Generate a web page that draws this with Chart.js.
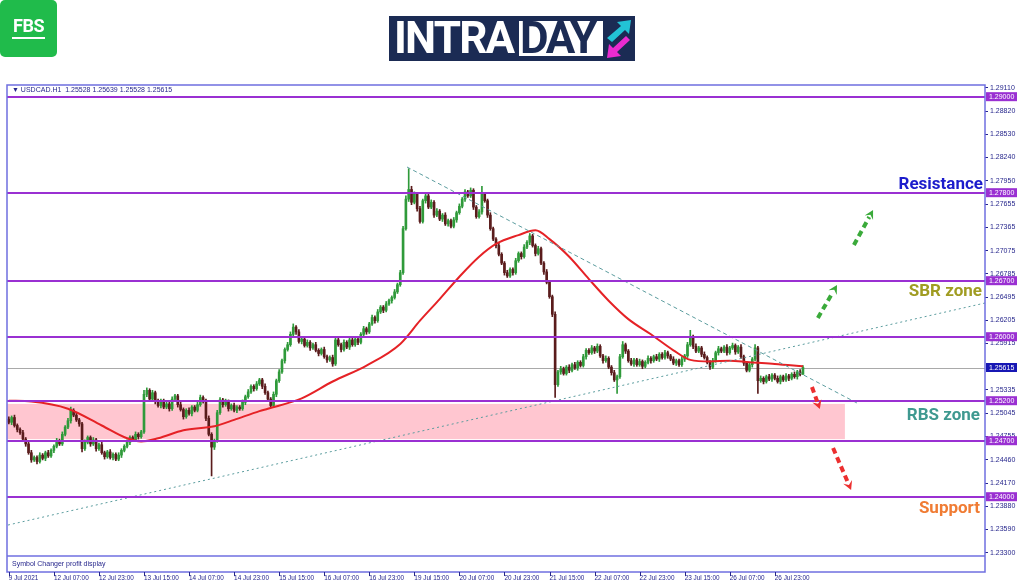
<!DOCTYPE html>
<html>
<head>
<meta charset="utf-8">
<title>USDCAD H1 intraday</title>
<script src="https://cdn.jsdelivr.net/npm/chart.js@4.4.1/dist/chart.umd.min.js"></script>
<style>
  html, body { margin: 0; padding: 0; background: #fff; }
  #wrap { position: relative; width: 1024px; height: 587px; overflow: hidden; }
  #chart-box { position: absolute; left: 0; top: 0; width: 1024px; height: 587px; }
  .fbs { position: absolute; left: 0; top: 0; width: 57px; height: 57px; background: #20bb4b; border-radius: 5px; }
  .fbs span { position: absolute; left: 0; top: 17px; width: 57px; text-align: center; color: #fff;
    font: bold 18px Roboto, sans-serif; line-height: 18px; letter-spacing: -0.5px; }
  .fbs i { position: absolute; left: 12px; top: 37px; width: 33px; height: 2px; background: #fff; }
  .intraday { position: absolute; left: 389px; top: 16px; width: 246px; height: 45px; background: #1b2b54; }
  .intraday .w1 { position: absolute; left: 5px; top: 0; color: #fff; font: bold 44px Roboto, sans-serif;
    line-height: 44px; letter-spacing: -1.8px; }
  .intraday .day { position: absolute; left: 130px; top: 5px; width: 84px; height: 35px; background: #fff; }
  .intraday .day span { position: absolute; left: 1px; top: -5px; color: #1b2b54; font: bold 44px Roboto, sans-serif;
    line-height: 44px; letter-spacing: -2.4px; }
  .intraday svg { position: absolute; left: 215px; top: 2px; }
</style>
</head>
<body>
<div id="wrap">
  <div id="chart-box"><canvas id="chart"></canvas></div>
  <div class="fbs"><span>FBS</span><i></i></div>
  <div class="intraday">
    <div class="w1">INTRA</div>
    <div class="day"><span>DAY</span></div>
    <svg width="30" height="42" viewBox="0 0 30 42">
      <polygon points="3,20 17,8 13,4 27,2 25,16 21,12 8,24" fill="#22c3d6"/>
      <polygon points="26,22 13,34 17,38 3,40 5,26 9,30 22,18" fill="#ea2bd0"/>
    </svg>
  </div>
</div>
<script>
// USDCAD H1, 9 Jul 2021 15:00 .. 27 Jul 2021 09:00
const firstOpen = 1.2497;
const closes = [
  1.2493,1.2499,1.2489,1.2484,1.2480,1.2472,1.2466,1.2455,1.2446,1.2449,
  1.2444,1.2452,1.2448,1.2455,1.2451,1.2458,1.2463,1.2470,1.2466,1.2478,
  1.2487,1.2495,1.2508,1.2502,1.2496,1.2491,1.2460,1.2468,1.2474,1.2466,
  1.2471,1.2460,1.2465,1.2455,1.2450,1.2456,1.2449,1.2453,1.2447,1.2452,
  1.2458,1.2463,1.2468,1.2474,1.2471,1.2478,1.2475,1.2481,1.2528,1.2533,
  1.2522,1.2530,1.2519,1.2514,1.2520,1.2512,1.2516,1.2510,1.2522,1.2526,
  1.2515,1.2509,1.2500,1.2508,1.2504,1.2512,1.2508,1.2515,1.2524,1.2520,
  1.2498,1.2478,1.2462,1.2470,1.2505,1.2521,1.2515,1.2519,1.2510,1.2514,
  1.2508,1.2512,1.2510,1.2518,1.2525,1.2531,1.2538,1.2535,1.2541,1.2546,
  1.2538,1.2530,1.2522,1.2514,1.2528,1.2545,1.2556,1.2570,1.2584,1.2590,
  1.2603,1.2612,1.2606,1.2594,1.2597,1.2589,1.2593,1.2586,1.2590,1.2583,
  1.2579,1.2584,1.2575,1.2571,1.2574,1.2566,1.2596,1.2590,1.2584,1.2593,
  1.2587,1.2596,1.2590,1.2597,1.2593,1.2603,1.2610,1.2606,1.2616,1.2624,
  1.2620,1.2631,1.2637,1.2633,1.2641,1.2645,1.2649,1.2656,1.2665,1.2680,
  1.2735,1.2772,1.2784,1.2768,1.2778,1.2760,1.2744,1.2770,1.2776,1.2762,
  1.2768,1.2752,1.2757,1.2747,1.2752,1.2741,1.2745,1.2738,1.2746,1.2755,
  1.2763,1.2772,1.2781,1.2776,1.2783,1.2762,1.2750,1.2756,1.2778,1.2770,
  1.2752,1.2735,1.2722,1.2714,1.2703,1.2692,1.2680,1.2676,1.2684,1.2680,
  1.2695,1.2704,1.2700,1.2712,1.2718,1.2726,1.2714,1.2704,1.2710,1.2692,
  1.2681,1.2668,1.2650,1.2628,1.2540,1.2556,1.2560,1.2554,1.2562,1.2558,
  1.2565,1.2561,1.2568,1.2564,1.2575,1.2583,1.2580,1.2586,1.2582,1.2588,
  1.2576,1.2570,1.2573,1.2562,1.2555,1.2546,1.2550,1.2575,1.2590,1.2582,
  1.2570,1.2566,1.2571,1.2565,1.2569,1.2563,1.2568,1.2573,1.2570,1.2575,
  1.2572,1.2578,1.2574,1.2580,1.2576,1.2572,1.2567,1.2570,1.2565,1.2572,
  1.2576,1.2590,1.2600,1.2588,1.2582,1.2586,1.2578,1.2574,1.2568,1.2562,
  1.2570,1.2580,1.2585,1.2582,1.2587,1.2580,1.2586,1.2589,1.2581,1.2587,
  1.2575,1.2567,1.2558,1.2565,1.2572,1.2586,1.2545,1.2548,1.2544,1.2550,
  1.2547,1.2552,1.2548,1.2544,1.2550,1.2546,1.2551,1.2548,1.2553,1.2550,
  1.2556,1.2553,1.25615
];
// wick length above / below the body, in pips
const wickUpPips = [
  3,2,3,2,2,3,2,2,3,2, 2,3,2,2,3,2,2,3,2,3, 2,3,4,2,3,2,2,3,2,2, 3,2,2,3,2,2,3,2,2,3,
  2,2,3,2,2,3,2,2,5,3, 2,3,2,3,2,2,3,2,3,2, 2,3,2,2,3,2,2,3,3,2, 2,3,2,2,3,3,2,3,2,2,
  3,2,2,3,2,3,2,2,3,2, 2,3,2,2,3,2,3,2,2,3, 3,4,2,3,2,2,3,2,2,3, 2,2,3,2,2,3,3,2,2,3,
  2,3,2,2,3,2,3,2,2,3, 2,3,2,2,3,2,2,3,2,3, 3,4,26,4,3,2,3,2,4,2, 3,2,3,2,2,3,2,2,3,2,
  3,2,3,2,3,2,2,3,10,2, 2,3,2,2,3,2,2,3,2,2, 3,2,2,3,2,3,2,2,3,2, 2,3,2,2,3,2,3,2,2,3,
  2,3,2,2,3,2,2,3,2,3, 2,2,3,2,2,3,2,3,4,2, 2,3,2,2,3,2,2,3,2,2, 3,2,2,3,2,2,3,2,2,3,
  2,3,8,2,3,2,2,3,2,2, 3,2,3,2,2,3,2,3,2,2, 3,2,2,3,2,4,2,3,2,2, 3,2,2,3,2,2,3,2,2,3,
  2,3,2.4
];
const wickDownPips = [
  2,3,2,3,2,2,3,2,3,2, 3,2,2,3,2,2,3,2,2,2, 2,2,3,2,2,3,4,2,2,3, 2,3,2,2,3,2,2,3,2,2,
  3,2,2,3,2,2,3,2,2,3, 2,2,3,2,3,2,2,3,2,2, 3,2,3,2,2,3,2,2,2,3, 3,2,36,3,2,2,3,2,3,2,
  2,3,2,2,3,2,2,3,2,2, 3,2,3,2,2,3,2,2,3,2, 2,2,3,2,3,2,2,3,2,2, 3,2,2,3,2,3,2,2,3,2,
  2,3,2,2,3,2,2,3,2,2, 3,2,2,3,2,2,3,2,2,2, 2,2,3,3,2,3,2,2,3,2, 2,3,2,2,3,2,3,2,2,3,
  2,2,3,2,2,3,2,2,3,2, 3,2,2,3,2,2,3,2,2,3, 2,2,3,2,2,3,2,3,2,2, 3,2,2,3,16,2,3,2,2,3,
  2,2,3,2,2,3,2,2,3,2, 2,3,2,2,3,2,17,2,2,3, 2,2,3,2,2,3,2,2,3,2, 2,3,2,2,3,2,2,3,2,2,
  3,2,2,3,2,2,3,2,2,3, 2,2,3,2,2,3,2,2,3,2, 2,3,2,2,3,2,16,2,3,2, 2,3,2,2,3,2,2,3,2,2,
  3,2,0
];

// red moving average, read at some bars
const maBars = [0, 8, 21, 33, 42, 47, 53, 62, 73, 80, 89, 92, 104, 115, 127, 139, 146, 153, 160, 167,
  173, 181, 187, 192, 199, 206, 213, 220, 228, 236, 242, 249, 256, 263, 272, 282];
const maValues = [1.2520, 1.2519, 1.2510, 1.2489, 1.2473, 1.2469, 1.2473, 1.2483, 1.2488, 1.2496,
  1.2507, 1.2510, 1.2523, 1.2544, 1.2564, 1.2591, 1.2620, 1.2647, 1.2675, 1.2700,
  1.2716, 1.2727, 1.2733, 1.2722, 1.2700, 1.2672, 1.2645, 1.2622, 1.2603, 1.2583,
  1.2571, 1.2569, 1.2570, 1.2568, 1.2566, 1.2563];

// trend lines (bar, price)
const trendDownBars = [141.4, 301.2];
const trendDownPrices = [1.28121, 1.25171];
const trendUpBars = [-0.3, 346.65];
const trendUpPrices = [1.23646, 1.26421];

const levelPrices = [1.29000, 1.27800, 1.26700, 1.26000, 1.25200, 1.24700, 1.24000];
const lastPrice = 1.25615;
const rbsZone = [1.2472, 1.2516];
const rbsZoneEndBar = 296.9;

const zoneNames = ["Resistance", "SBR zone", "RBS zone", "Support"];
const zoneNamePrices = [1.27896, 1.26559, 1.25009, 1.23846];

const yTickValues = [1.23300, 1.23590, 1.23880, 1.24170, 1.24460, 1.24755, 1.25045, 1.25335, 1.25915,
  1.26205, 1.26495, 1.26785, 1.27075, 1.27365, 1.27655, 1.27950, 1.28240, 1.28530, 1.28820, 1.29110];
const xTickBars = [0, 16, 32, 48, 64, 80, 96, 112, 128, 144, 160, 176, 192, 208, 224, 240, 256, 272];
const xTickLabels = ["9 Jul 2021", "12 Jul 07:00", "12 Jul 23:00", "13 Jul 15:00", "14 Jul 07:00",
  "14 Jul 23:00", "15 Jul 15:00", "16 Jul 07:00", "16 Jul 23:00", "19 Jul 15:00", "20 Jul 07:00",
  "20 Jul 23:00", "21 Jul 15:00", "22 Jul 07:00", "22 Jul 23:00", "23 Jul 15:00", "26 Jul 07:00",
  "26 Jul 23:00"];

const headerText = "\u25BC USDCAD.H1  1.25528 1.25639 1.25528 1.25615";
const footerText = "Symbol Changer profit display";

const pip = 0.0001;
const opens = closes.map((c, i) => i === 0 ? firstOpen : closes[i - 1]);
const highs = closes.map((c, i) => Math.max(opens[i], c) + wickUpPips[i] * pip);
const lows = closes.map((c, i) => Math.min(opens[i], c) - wickDownPips[i] * pip);

const bullColor = "#2f9a3a";
const bearColor = "#5a1c1c";
const candleColors = closes.map((c, i) => c >= opens[i] ? bullColor : bearColor);

const navy = "#26268c";
const purple = "#9a30d2";
const frameColor = "#6f6fe0";
const labelFont = "7px 'Liberation Sans', 'DejaVu Sans', sans-serif";

const arrows = [
  { from: [300.1, 1.27146], to: [306.9, 1.27583], color: "#3aaa3a" },
  { from: [287.3, 1.26234], to: [294.1, 1.26646], color: "#3aaa3a" },
  { from: [285.2, 1.25371], to: [288.0, 1.25096], color: "#ec2f2f" },
  { from: [292.7, 1.24609], to: [299.1, 1.24084], color: "#ec2f2f" }
];
const zoneStyles = [
  { color: "#1c1ccc", right: 983 },
  { color: "#a09c22", right: 982 },
  { color: "#3f9990", right: 980 },
  { color: "#f07c34", right: 980 }
];

function drawArrow(ctx, x0, y0, x1, y1, color) {
  const ang = Math.atan2(y1 - y0, x1 - x0);
  const head = 10;
  const bx = x1 - Math.cos(ang) * head * 0.8;
  const by = y1 - Math.sin(ang) * head * 0.8;
  ctx.save();
  ctx.strokeStyle = color;
  ctx.fillStyle = color;
  ctx.lineWidth = 4;
  ctx.setLineDash([6, 4]);
  ctx.beginPath();
  ctx.moveTo(x0, y0);
  ctx.lineTo(bx, by);
  ctx.stroke();
  ctx.setLineDash([]);
  const w = 0.5;
  ctx.beginPath();
  ctx.moveTo(x1, y1);
  ctx.lineTo(x1 - Math.cos(ang - w) * head, y1 - Math.sin(ang - w) * head);
  ctx.lineTo(x1 - Math.cos(ang) * head * 0.55, y1 - Math.sin(ang) * head * 0.55);
  ctx.lineTo(x1 - Math.cos(ang + w) * head, y1 - Math.sin(ang + w) * head);
  ctx.closePath();
  ctx.fill();
  ctx.restore();
}

const overlay = {
  id: "overlay",
  beforeDatasetsDraw(chart) {
    const { ctx, chartArea: a, scales: { x, y } } = chart;
    ctx.save();
    ctx.fillStyle = "#ffc6d0";
    const top = y.getPixelForValue(rbsZone[1]);
    const bottom = y.getPixelForValue(rbsZone[0]);
    ctx.fillRect(a.left, top, x.getPixelForValue(rbsZoneEndBar) - a.left, bottom - top);
    const py = Math.round(y.getPixelForValue(lastPrice)) + 0.5;
    ctx.strokeStyle = "#a9a9a9";
    ctx.lineWidth = 1;
    ctx.beginPath();
    ctx.moveTo(a.left, py);
    ctx.lineTo(a.right, py);
    ctx.stroke();
    ctx.restore();
  },
  afterDatasetsDraw(chart) {
    const { ctx, chartArea: a, scales: { y } } = chart;
    ctx.save();
    ctx.strokeStyle = purple;
    ctx.lineWidth = 2;
    levelPrices.forEach(p => {
      const py = Math.round(y.getPixelForValue(p));
      ctx.beginPath();
      ctx.moveTo(a.left, py);
      ctx.lineTo(a.right, py);
      ctx.stroke();
    });
    ctx.restore();
  },
  afterDraw(chart) {
    const { ctx, chartArea: a, scales: { x, y } } = chart;
    ctx.save();
    // frame and bottom strip
    ctx.strokeStyle = frameColor;
    ctx.lineWidth = 1.5;
    ctx.strokeRect(a.left, a.top, a.right - a.left, 572 - a.top);
    ctx.beginPath();
    ctx.moveTo(a.left, a.bottom);
    ctx.lineTo(a.right, a.bottom);
    ctx.stroke();

    ctx.font = labelFont;
    ctx.fillStyle = navy;
    ctx.textBaseline = "middle";
    ctx.textAlign = "left";
    ctx.fillText(headerText, a.left + 5, a.top + 5);
    ctx.fillText(footerText, a.left + 5, 564);

    // time axis tick marks under the strip
    ctx.strokeStyle = navy;
    ctx.lineWidth = 1;
    xTickBars.forEach(b => {
      const px = Math.round(x.getPixelForValue(b)) + 0.5;
      ctx.beginPath();
      ctx.moveTo(px, 572);
      ctx.lineTo(px, 576);
      ctx.stroke();
    });

    // price boxes on the right axis
    const box = (p, color) => {
      const py = y.getPixelForValue(p);
      ctx.fillStyle = color;
      ctx.fillRect(a.right + 1, py - 4.5, 31, 9);
      ctx.fillStyle = "#ffffff";
      ctx.fillText(p.toFixed(5), a.right + 4, py + 0.5);
    };
    levelPrices.forEach(p => box(p, purple));
    box(lastPrice, "#1717b4");

    // zone names
    ctx.font = "bold 17px Roboto, sans-serif";
    ctx.textAlign = "right";
    zoneNames.forEach((t, k) => {
      ctx.fillStyle = zoneStyles[k].color;
      ctx.fillText(t, zoneStyles[k].right, y.getPixelForValue(zoneNamePrices[k]));
    });

    arrows.forEach(ar => {
      drawArrow(ctx,
        x.getPixelForValue(ar.from[0]), y.getPixelForValue(ar.from[1]),
        x.getPixelForValue(ar.to[0]), y.getPixelForValue(ar.to[1]), ar.color);
    });
    ctx.restore();
  }
};

new Chart(document.getElementById("chart"), {
  type: "bar",
  data: {
    datasets: [
      {
        label: "wicks",
        data: closes.map((c, i) => ({ x: i, y: [lows[i], highs[i]] })),
        backgroundColor: candleColors,
        barThickness: 1,
        grouped: false,
        order: 4
      },
      {
        label: "bodies",
        data: closes.map((c, i) => ({ x: i, y: [opens[i], c] })),
        backgroundColor: candleColors,
        barThickness: 2,
        minBarLength: 1,
        grouped: false,
        order: 3
      },
      {
        type: "line",
        label: "MA",
        data: maBars.map((b, k) => ({ x: b, y: maValues[k] })),
        borderColor: "#e52226",
        borderWidth: 2,
        pointRadius: 0,
        cubicInterpolationMode: "monotone",
        order: 2
      },
      {
        type: "line",
        label: "trend down",
        data: trendDownBars.map((b, k) => ({ x: b, y: trendDownPrices[k] })),
        borderColor: "#5b9c9e",
        borderWidth: 1,
        borderDash: [4, 3],
        pointRadius: 0,
        order: 1
      },
      {
        type: "line",
        label: "trend up",
        data: trendUpBars.map((b, k) => ({ x: b, y: trendUpPrices[k] })),
        borderColor: "#5b9c9e",
        borderWidth: 1,
        borderDash: [2, 3],
        pointRadius: 0,
        order: 1
      }
    ]
  },
  options: {
    responsive: true,
    maintainAspectRatio: false,
    animation: false,
    events: [],
    layout: { padding: { left: 7, top: 85, right: 0, bottom: 0 } },
    plugins: { legend: { display: false }, tooltip: { enabled: false } },
    scales: {
      x: {
        type: "linear",
        min: -0.65,
        max: 346.65,
        offset: false,
        grid: { display: false, drawTicks: false },
        border: { display: false },
        afterBuildTicks: scale => { scale.ticks = xTickBars.map(v => ({ value: v })); },
        afterFit: scale => {
          scale.height = 31;
          scale.paddingLeft = 0;
          scale.paddingRight = 0;
        },
        ticks: {
          autoSkip: false,
          maxRotation: 0,
          align: "start",
          padding: 18,
          color: navy,
          font: { family: "'Liberation Sans', sans-serif", size: 6.4 },
          callback: (v, i) => xTickLabels[i]
        }
      },
      y: {
        position: "right",
        min: 1.23259,
        max: 1.29146,
        grid: { drawOnChartArea: false, drawTicks: true, tickLength: 3, color: navy },
        border: { display: false },
        afterBuildTicks: scale => { scale.ticks = yTickValues.map(v => ({ value: v })); },
        afterFit: scale => {
          scale.width = 39;
          scale.paddingTop = 0;
          scale.paddingBottom = 0;
        },
        ticks: {
          autoSkip: false,
          padding: 2,
          color: navy,
          font: { family: "'Liberation Sans', sans-serif", size: 7 },
          callback: v => v.toFixed(5)
        }
      }
    }
  },
  plugins: [overlay]
});
</script>
</body>
</html>
